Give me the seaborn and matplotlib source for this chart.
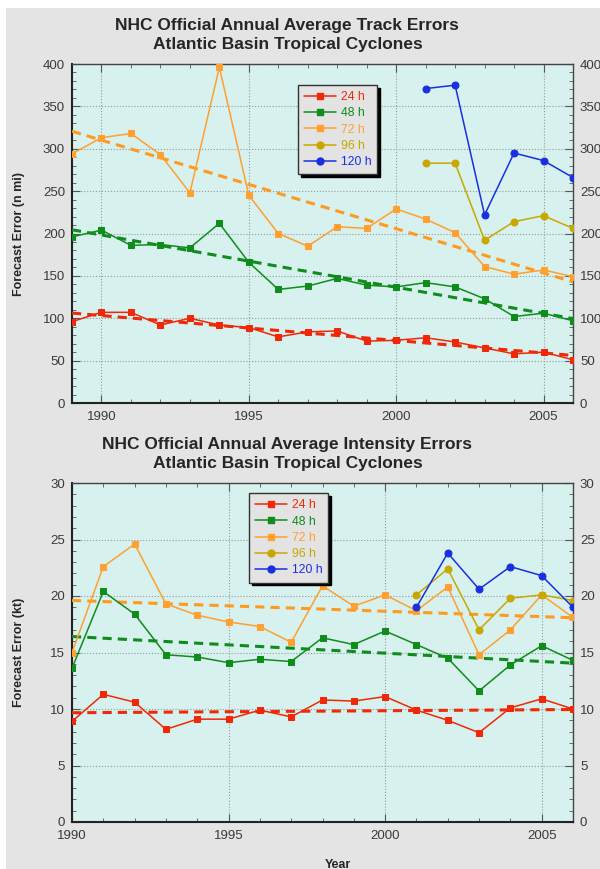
import numpy as np
import pandas as pd
import matplotlib
matplotlib.use('Agg')
import matplotlib.pyplot as plt
from matplotlib.patches import Rectangle
from matplotlib.ticker import MultipleLocator
import seaborn as sns

# ---- track errors (n mi), 1989-2006 ----
track_years = list(range(1989, 2007))
track_24 = [96, 107, 107, 92, 100, 92, 89, 78, 84, 85, 73, 74, 77, 72, 65, 58, 60, 51]
track_48 = [196, 204, 186, 187, 183, 212, 166, 134, 138, 147, 139, 137, 142, 137, 123, 102, 106, 97]
track_72 = [294, 313, 318, 293, 248, 396, 245, 200, 185, 208, 206, 229, 217, 201, 161, 152, 157, 149]
long_years = list(range(2001, 2007))
track_96 = [283, 283, 192, 214, 221, 206]
track_120 = [371, 375, 222, 295, 286, 266]

# ---- intensity errors (kt), 1990-2006 ----
int_years = list(range(1990, 2007))
int_24 = [8.9, 11.3, 10.6, 8.2, 9.1, 9.1, 9.9, 9.3, 10.8, 10.7, 11.1, 9.9, 9.0, 7.9, 10.1, 10.9, 10.0]
int_48 = [13.6, 20.4, 18.4, 14.8, 14.6, 14.1, 14.4, 14.2, 16.3, 15.7, 16.9, 15.7, 14.5, 11.6, 13.9, 15.6, 14.3]
int_72 = [15.0, 22.6, 24.6, 19.3, 18.3, 17.7, 17.3, 15.9, 20.9, 19.1, 20.1, 18.7, 20.8, 14.8, 17.0, 20.1, 18.1]
int_96 = [20.1, 22.4, 17.0, 19.8, 20.1, 19.6]
int_120 = [19.0, 23.8, 20.6, 22.6, 21.8, 19.0]

labels = ['24 h', '48 h', '72 h', '96 h', '120 h']
colors = ['#f02808', '#108c1c', '#ffa030', '#c8a800', '#1830e0']
markers = ['s', 's', 's', 'o', 'o']
trend_colors = ['#f02808', '#108c1c', '#ff9a20']

sns.set_style('ticks')
plt.rcParams['font.family'] = ['Liberation Sans', 'DejaVu Sans']

fig = plt.figure(figsize=(6, 8.69), dpi=100, facecolor='white')
fig.patches.append(Rectangle((6 / 600, 0), 1, 1 - 8 / 869, transform=fig.transFigure,
                             facecolor='#e3e4e3', edgecolor='none', zorder=-10))

ax1 = fig.add_axes([72 / 600, 1 - 403 / 869, 501 / 600, 339 / 869])
ax2 = fig.add_axes([72 / 600, 1 - 822 / 869, 501 / 600, 339 / 869])


def draw_panel(ax, years, series, long_series, xlim, ylim, major, minor, ylabel, title, legend_pos):
    ax.set_facecolor('#d6f1ee')
    handles = []
    for i, vals in enumerate(series + long_series):
        x = years if i < 3 else long_years
        sns.lineplot(x=x, y=vals, ax=ax, color=colors[i], marker=markers[i], markersize=5,
                     markeredgecolor=colors[i], linewidth=1.1, zorder=4, legend=False)
        h, = ax.plot([], [], color=colors[i], marker=markers[i], markersize=5, linewidth=1.1)
        handles.append(h)
    # linear trends for 24/48/72 h
    for i, vals in enumerate(series):
        coef = np.polyfit(years, vals, 1)
        xs = np.array([years[0], years[-1]])
        ax.plot(xs, np.polyval(coef, xs), color=trend_colors[i], linestyle=(0, (3, 2)),
                linewidth=2.2, zorder=3)

    ax.set_xlim(*xlim)
    ax.set_ylim(*ylim)
    ax.xaxis.set_major_locator(MultipleLocator(5))
    ax.xaxis.set_minor_locator(MultipleLocator(1))
    ax.yaxis.set_major_locator(MultipleLocator(major))
    ax.yaxis.set_minor_locator(MultipleLocator(minor))
    ax.tick_params(which='both', direction='in', top=True, right=True,
                   labelright=True, labelsize=9.5, labelcolor='#3a3a3a', color='#555555')
    ax.tick_params(axis='y', which='major', pad=5)
    ax.tick_params(axis='x', which='major', pad=6)
    ax.tick_params(which='major', length=6)
    ax.tick_params(which='minor', length=3)
    ax.grid(True, which='major', linestyle=':', color='#999999', linewidth=0.8)
    ax.set_xlabel('')
    ax.set_ylabel(ylabel, fontsize=9, fontweight='bold')
    ax.yaxis.set_label_coords(-0.094, 0.5)
    for side in ['top', 'right']:
        ax.spines[side].set_color('#444444')
        ax.spines[side].set_linewidth(1.0)
    for side in ['left', 'bottom']:
        ax.spines[side].set_color('#222222')
        ax.spines[side].set_linewidth(1.5)

    leg = ax.legend(handles, labels, loc='upper left', bbox_to_anchor=legend_pos,
                    fontsize=8.8, frameon=True, fancybox=False, shadow={'color': 'black', 'alpha': 1},
                    facecolor='#e2e3e2', edgecolor='#333333', framealpha=1,
                    handlelength=2.6, handletextpad=0.4, labelspacing=0.35,
                    borderpad=0.5, borderaxespad=0)
    for txt, c in zip(leg.get_texts(), colors):
        txt.set_color(c)
    leg.set_zorder(6)
    ax.set_title(title, fontsize=12.5, fontweight='bold', pad=11, x=0.43, linespacing=1.3)


draw_panel(ax1, track_years, [track_24, track_48, track_72], [track_96, track_120],
           (1989, 2006), (0, 400), 50, 10, 'Forecast Error (n mi)',
           'NHC Official Annual Average Track Errors\nAtlantic Basin Tropical Cyclones',
           (0.451, 0.938))
draw_panel(ax2, int_years, [int_24, int_48, int_72], [int_96, int_120],
           (1990, 2006), (0, 30), 5, 1, 'Forecast Error (kt)',
           'NHC Official Annual Average Intensity Errors\nAtlantic Basin Tropical Cyclones',
           (0.353, 0.970))
ax2.set_xlabel('Year', fontsize=9, fontweight='bold')
ax2.xaxis.set_label_coords(0.53, -0.11)

fig.savefig('out.png', dpi=100, facecolor=fig.get_facecolor())
